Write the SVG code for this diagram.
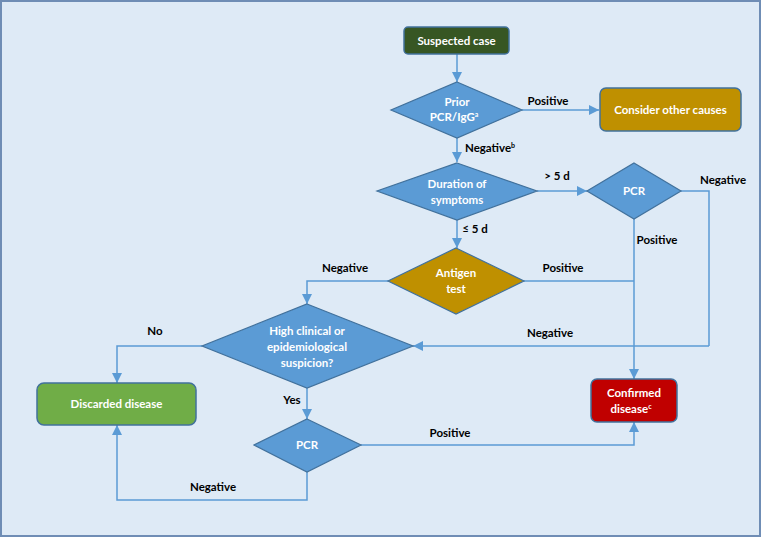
<svg xmlns="http://www.w3.org/2000/svg" width="762" height="538" viewBox="0 0 762 538">
<defs>
<marker id="ah" markerWidth="10" markerHeight="10" refX="10" refY="5" orient="auto" markerUnits="userSpaceOnUse">
<path d="M0,0 L10,5 L0,10 Z" fill="#5B9BD5"/>
</marker>
<style>
.bg{fill:#DEEAF6;stroke:#6F8DB5;stroke-width:2}
.c{fill:none;stroke:#5B9BD5;stroke-width:1.5}
.a{marker-end:url(#ah)}
.d{fill:#5B9BD5;stroke:#41719C;stroke-width:1.2}
.dy{fill:#BF9000;stroke:#41719C;stroke-width:1.2}
.b{stroke:#41719C;stroke-width:1.5}
.t{font-family:Lato,"Liberation Sans",sans-serif;font-weight:bold;font-size:11.5px;fill:#FFFFFF;text-anchor:middle}
.l{font-family:Lato,"Liberation Sans",sans-serif;font-weight:bold;font-size:11.5px;fill:#000000;text-anchor:middle}
.s{font-size:7px}
</style>
</defs>
<rect class="bg" x="1" y="1" width="759" height="535"/>
<g id="connectors">
<path class="c a" d="M457,54 V82"/>
<path class="c a" d="M522,110 H599"/>
<path class="c a" d="M457,138 V162"/>
<path class="c a" d="M537,191 H587"/>
<path class="c a" d="M457,220 V248"/>
<path class="c" d="M681,191 H709 V346"/>
<path class="c a" d="M709,346 H413"/>
<path class="c a" d="M634,219 V379"/>
<path class="c" d="M524,281 H634"/>
<path class="c a" d="M388,281 H307 V304"/>
<path class="c a" d="M202,346 H117 V383"/>
<path class="c a" d="M307,388 V419"/>
<path class="c a" d="M361,445 H634 V422"/>
<path class="c a" d="M307,472 V500 H117 V425"/>
</g>
<g id="labels">
<text class="l" x="548" y="105">Positive</text>
<text class="l" x="490" y="152">Negative<tspan class="s" dy="-4">b</tspan></text>
<text class="l" x="557" y="180">&gt; 5 d</text>
<text class="l" x="723" y="184">Negative</text>
<text class="l" x="475" y="233">≤ 5 d</text>
<text class="l" x="657" y="244">Positive</text>
<text class="l" x="563" y="272">Positive</text>
<text class="l" x="345" y="272">Negative</text>
<text class="l" x="550" y="337">Negative</text>
<text class="l" x="155" y="335">No</text>
<text class="l" x="292" y="404">Yes</text>
<text class="l" x="450" y="437">Positive</text>
<text class="l" x="213" y="491">Negative</text>
</g>
<g id="suspected">
<rect class="b" x="404" y="27" width="105" height="27" rx="4" fill="#375623"/>
<text class="t" x="456.5" y="45">Suspected case</text>
</g>
<g id="prior">
<polygon class="d" points="457,82 522,110 457,138 391,110"/>
<text class="t" x="457" y="106">Prior</text>
<text class="t" x="454" y="121">PCR/IgG<tspan class="s" dy="-4">a</tspan></text>
</g>
<g id="consider">
<rect class="b" x="600" y="88" width="141" height="43" rx="6" fill="#BF9000"/>
<text class="t" x="670.5" y="114">Consider other causes</text>
</g>
<g id="duration">
<polygon class="d" points="457,163 537,191 457,220 377,191"/>
<text class="t" x="457" y="188">Duration of</text>
<text class="t" x="457" y="204">symptoms</text>
</g>
<g id="pcr1">
<polygon class="d" points="634,163 681,191 634,219 587,191"/>
<text class="t" x="634" y="195">PCR</text>
</g>
<g id="antigen">
<polygon class="dy" points="456,248 524,281 456,314 388,281"/>
<text class="t" x="456" y="277">Antigen</text>
<text class="t" x="456" y="293">test</text>
</g>
<g id="suspicion">
<polygon class="d" points="307,304 413,346 307,388 202,346"/>
<text class="t" x="307" y="335">High clinical or</text>
<text class="t" x="307" y="351">epidemiological</text>
<text class="t" x="307" y="367">suspicion?</text>
</g>
<g id="discarded">
<rect class="b" x="37" y="383" width="159" height="42" rx="7" fill="#70AD47"/>
<text class="t" x="116.5" y="408">Discarded disease</text>
</g>
<g id="pcr2">
<polygon class="d" points="307,419 361,445 307,472 254,445"/>
<text class="t" x="307" y="449">PCR</text>
</g>
<g id="confirmed">
<rect class="b" x="591" y="379" width="86" height="43" rx="6" fill="#C00000"/>
<text class="t" x="634" y="397">Confirmed</text>
<text class="t" x="631" y="413">disease<tspan class="s" dy="-4">c</tspan></text>
</g>
</svg>
